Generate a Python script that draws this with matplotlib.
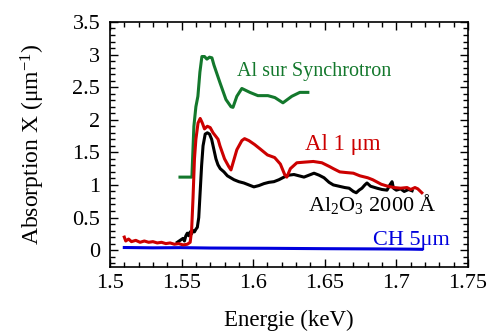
import matplotlib
matplotlib.use("Agg")
import matplotlib.pyplot as plt
from matplotlib.ticker import MultipleLocator

plt.rcParams['font.family'] = ['Liberation Serif', 'DejaVu Serif']
plt.rcParams['mathtext.fontset'] = 'custom'
plt.rcParams['mathtext.rm'] = 'Liberation Serif'
plt.rcParams['mathtext.it'] = 'Liberation Serif:italic'

# --- data ---
green_E = [1.5489, 1.5572, 1.5586, 1.5600, 1.5614, 1.5628, 1.5642, 1.5660, 1.5677,
           1.5695, 1.5712, 1.5726, 1.5768, 1.5810, 1.5845, 1.5859, 1.5886, 1.5921,
           1.5977, 1.6033, 1.6103, 1.6152, 1.6208, 1.6270, 1.6326, 1.6382]
green_A = [1.12, 1.12, 1.90, 2.20, 2.36, 2.73, 2.97, 2.97, 2.93,
           2.96, 2.95, 2.84, 2.57, 2.31, 2.20, 2.19, 2.36, 2.48,
           2.42, 2.37, 2.37, 2.34, 2.26, 2.36, 2.42, 2.42]

red_E = [1.510, 1.511, 1.513, 1.515, 1.518, 1.521, 1.524, 1.527, 1.530, 1.533,
         1.536, 1.539, 1.542, 1.545, 1.548, 1.551, 1.554, 1.556, 1.557, 1.558,
         1.559, 1.560, 1.5615, 1.563, 1.5645, 1.566, 1.568, 1.570, 1.572, 1.5755,
         1.5768, 1.580, 1.583, 1.5845, 1.5886, 1.5921, 1.594, 1.597, 1.601, 1.605,
         1.610, 1.615, 1.619, 1.622, 1.6235, 1.626, 1.6305, 1.636, 1.642, 1.648,
         1.6535, 1.656, 1.6605, 1.665, 1.670, 1.6745, 1.680, 1.6835, 1.6895, 1.694,
         1.6985, 1.703, 1.7075, 1.710, 1.713, 1.715, 1.7178]
red_A = [0.20, 0.14, 0.17, 0.13, 0.15, 0.12, 0.14, 0.12, 0.13, 0.11,
         0.12, 0.10, 0.11, 0.09, 0.10, 0.08, 0.09, 0.12, 0.30, 0.80,
         1.40, 1.70, 1.95, 2.02, 1.95, 1.86, 1.90, 1.88, 1.80, 1.70,
         1.60, 1.40, 1.28, 1.23, 1.54, 1.68, 1.71, 1.68, 1.62, 1.55,
         1.46, 1.42, 1.32, 1.16, 1.12, 1.25, 1.34, 1.35, 1.36, 1.34,
         1.28, 1.25, 1.20, 1.19, 1.18, 1.14, 1.11, 1.08, 1.01, 0.98,
         0.96, 0.95, 0.96, 0.93, 0.96, 0.94, 0.88]

black_E = [1.547, 1.549, 1.551, 1.552, 1.553, 1.554, 1.555, 1.556, 1.557, 1.558,
           1.559, 1.560, 1.561, 1.562, 1.563, 1.564, 1.565, 1.5665, 1.568, 1.5695,
           1.571, 1.5726, 1.574, 1.5754, 1.577, 1.5796, 1.582, 1.5866, 1.590, 1.5935,
           1.597, 1.6005, 1.604, 1.6075, 1.611, 1.6145, 1.618, 1.6215, 1.625, 1.6285,
           1.632, 1.6355, 1.639, 1.6425, 1.646, 1.6495, 1.653, 1.656, 1.660, 1.664,
           1.667, 1.670, 1.672, 1.674, 1.676, 1.678, 1.6795, 1.682, 1.6865, 1.690,
           1.6935, 1.6955, 1.697, 1.698, 1.700, 1.703, 1.7055, 1.7085, 1.711]
black_A = [0.12, 0.15, 0.18, 0.14, 0.22, 0.26, 0.22, 0.28, 0.25, 0.30,
           0.28, 0.32, 0.35, 0.50, 0.90, 1.30, 1.60, 1.78, 1.80, 1.78,
           1.70, 1.54, 1.40, 1.31, 1.25, 1.20, 1.14, 1.08, 1.05, 1.03,
           1.00, 0.97, 0.99, 1.02, 1.04, 1.05, 1.08, 1.12, 1.15, 1.16,
           1.14, 1.12, 1.15, 1.18, 1.15, 1.11, 1.04, 1.00, 0.98, 0.96,
           0.95, 0.90, 0.88, 0.92, 0.95, 1.00, 1.03, 0.98, 0.95, 0.93,
           0.92, 1.00, 1.05, 0.95, 0.92, 0.94, 0.90, 0.93, 0.91]

blue_E = [1.510, 1.530, 1.550, 1.570, 1.590, 1.610, 1.630, 1.650, 1.670, 1.690, 1.710, 1.7178]
blue_A = [0.040, 0.035, 0.038, 0.032, 0.030, 0.028, 0.025, 0.022, 0.020, 0.018, 0.015, 0.012]

x_ticks = [1.5, 1.55, 1.6, 1.65, 1.7, 1.75]
x_ticklabels = ['1.5', '1.55', '1.6', '1.65', '1.7', '1.75']
y_ticks = [0, 0.5, 1, 1.5, 2, 2.5, 3, 3.5]
y_ticklabels = ['0', '0.5', '1', '1.5', '2', '2.5', '3', '3.5']

GREEN = '#13782c'
RED = '#cc0000'
BLUE = '#0000dd'

fig = plt.figure(figsize=(4.91, 3.33), dpi=100)
ax = fig.add_axes([0.224, 0.198, 0.729, 0.736])

lw = 2.2
ax.plot(blue_E, blue_A, color=BLUE, lw=lw)
ax.plot(green_E, green_A, color=GREEN, lw=lw)
ax.plot(black_E, black_A, color='black', lw=lw)
ax.plot(red_E, red_A, color=RED, lw=lw)

ax.set_xlim(1.5, 1.75)
ax.set_ylim(-0.26, 3.5)
ax.set_xticks(x_ticks)
ax.set_xticklabels(x_ticklabels)
ax.set_yticks(y_ticks)
ax.set_yticklabels(y_ticklabels)
ax.xaxis.set_minor_locator(MultipleLocator(0.01))
ax.yaxis.set_minor_locator(MultipleLocator(0.1))
ax.tick_params(which='both', direction='in', top=True, right=True, labelsize=16, width=1)
ax.tick_params(which='major', length=6)
ax.tick_params(which='minor', length=3.5)
ax.tick_params(axis='x', pad=5)
ax.tick_params(axis='y', pad=7)
for s in ax.spines.values():
    s.set_linewidth(1.2)

ax.set_xlabel('Energie (keV)', fontsize=16.5, labelpad=12)
ax.set_ylabel('Absorption X (μm$^{-1}$)', fontsize=17, labelpad=18)

ax.text(1.5886, 2.74, 'Al sur Synchrotron', color=GREEN, fontsize=14.5, va='center')
ax.text(1.636, 1.62, 'Al 1 μm', color=RED, fontsize=16.5, va='center')
ax.text(1.638, 0.70, 'Al$_2$O$_3$ 2000 Å', color='black', fontsize=16, va='center')
ax.text(1.6836, 0.15, 'CH 5μm', color=BLUE, fontsize=16, va='center')

fig.savefig('out.png', dpi=100)
